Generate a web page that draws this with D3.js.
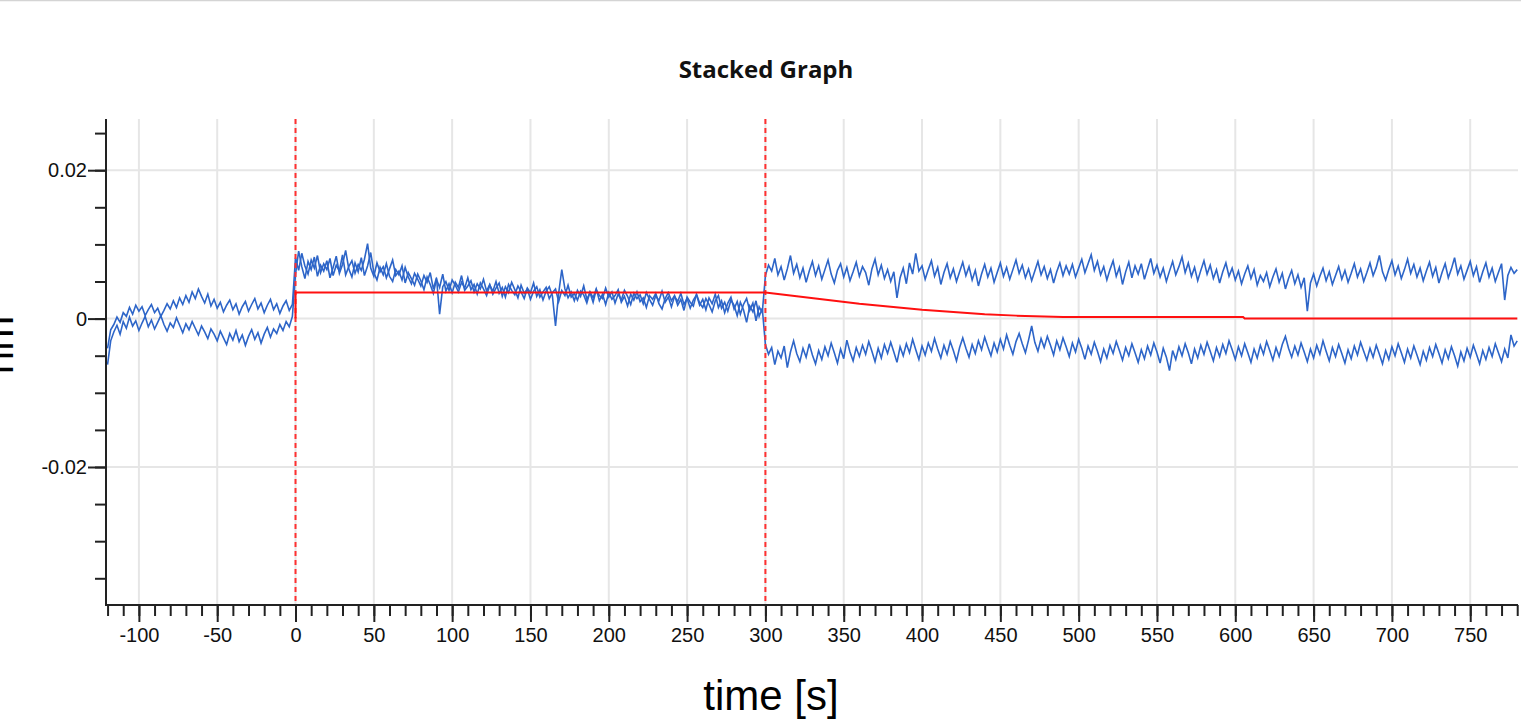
<!DOCTYPE html>
<html><head><meta charset="utf-8">
<script src="https://cdn.jsdelivr.net/npm/d3@7"></script>
<style>html,body{margin:0;padding:0;background:#fff;overflow:hidden}</style>
</head><body>
<svg id="chart" width="1521" height="721"></svg>
<script>
// ---------- text ----------
const chartTitle = "Stacked Graph";
const xAxisLabel = "time [s]";
const yAxisLabel = "nm";

// ---------- ticks ----------
const xMajorTicks = [-100,-50,0,50,100,150,200,250,300,350,400,450,500,550,600,650,700,750];
const xTickLabels = ["-100","-50","0","50","100","150","200","250","300","350","400","450","500","550","600","650","700","750"];
const yMajorTicks = [-0.02, 0, 0.02];
const yTickLabels = ["-0.02", "0", "0.02"];
const markerTimes = [0, 300];

// ---------- sampled traces (2 s spacing) ----------
const sampleStep = 2;
const preStart = -120, assocStart = 0, dissocStart = 300;

const preA = [-0.0040,-0.0015,-0.0008,0.0002,-0.0005,0.0008,0.0003,0.0015,0.0006,0.0018,
  0.0010,0.0016,0.0004,0.0012,0.0019,0.0008,0.0014,0.0003,0.0011,0.0020,
  0.0013,0.0024,0.0015,0.0028,0.0019,0.0031,0.0022,0.0036,0.0027,0.0040,
  0.0030,0.0021,0.0033,0.0017,0.0026,0.0014,0.0022,0.0009,0.0018,0.0025,
  0.0012,0.0020,0.0006,0.0016,0.0023,0.0010,0.0019,0.0027,0.0013,0.0021,
  0.0008,0.0018,0.0026,0.0012,0.0020,0.0007,0.0017,0.0024,0.0011,0.0019];
const preB = [-0.0062,-0.0030,-0.0018,-0.0009,-0.0021,-0.0004,-0.0013,0.0002,-0.0010,-0.0003,
  -0.0016,-0.0006,0.0003,-0.0011,-0.0002,-0.0014,-0.0005,0.0004,-0.0008,-0.0017,
  -0.0006,-0.0012,0.0001,-0.0009,-0.0019,-0.0007,-0.0015,-0.0004,-0.0013,-0.0022,
  -0.0010,-0.0018,-0.0027,-0.0014,-0.0021,-0.0030,-0.0017,-0.0026,-0.0035,-0.0020,
  -0.0029,-0.0016,-0.0031,-0.0022,-0.0036,-0.0024,-0.0015,-0.0028,-0.0019,-0.0033,
  -0.0021,-0.0012,-0.0025,-0.0014,-0.0020,-0.0008,-0.0016,-0.0004,-0.0011,0.0003];

const assocA = [0.0082,0.0065,0.0088,0.0071,0.0060,0.0079,0.0068,0.0085,0.0062,0.0074,
  0.0066,0.0081,0.0058,0.0072,0.0064,0.0086,0.0059,0.0070,0.0078,0.0061,
  0.0073,0.0065,0.0080,0.0101,0.0068,0.0057,0.0075,0.0063,0.0070,0.0055,
  0.0067,0.0079,0.0058,0.0064,0.0052,0.0069,0.0056,0.0047,0.0061,0.0053,
  0.0044,0.0058,0.0049,0.0062,0.0040,0.0055,0.0006,0.0043,0.0050,0.0038,
  0.0052,0.0045,0.0036,0.0049,0.0041,0.0055,0.0039,0.0046,0.0033,0.0048,
  0.0040,0.0031,0.0045,0.0037,0.0050,0.0034,0.0042,0.0029,0.0046,0.0038,
  0.0032,0.0044,0.0036,0.0027,0.0041,0.0035,0.0048,0.0030,0.0039,0.0025,
  0.0037,0.0043,0.0031,-0.0010,0.0034,0.0066,0.0040,0.0028,0.0036,0.0024,
  0.0038,0.0030,0.0044,0.0026,0.0035,0.0022,0.0039,0.0031,0.0027,0.0041,
  0.0029,0.0036,0.0021,0.0033,0.0025,0.0038,0.0030,0.0019,0.0034,0.0027,
  0.0032,0.0020,0.0035,0.0026,0.0018,0.0031,0.0024,0.0037,0.0022,0.0029,
  0.0016,0.0030,0.0023,0.0034,0.0019,0.0027,0.0014,0.0025,0.0032,0.0018,
  0.0026,0.0012,0.0028,0.0020,0.0033,0.0015,0.0024,0.0008,0.0021,0.0029,
  0.0013,0.0023,0.0006,0.0019,0.0027,0.0011,0.0021,-0.0003,0.0016,0.0008];
const assocB = [0.0060,0.0091,0.0070,0.0054,0.0077,0.0066,0.0083,0.0057,0.0072,0.0064,
  0.0078,0.0055,0.0069,0.0084,0.0061,0.0073,0.0092,0.0067,0.0056,0.0075,
  0.0063,0.0082,0.0058,0.0071,0.0089,0.0062,0.0052,0.0069,0.0059,0.0074,
  0.0057,0.0050,0.0066,0.0059,0.0071,0.0048,0.0062,0.0054,0.0045,0.0060,
  0.0051,0.0039,0.0056,0.0046,0.0034,0.0053,0.0042,0.0060,0.0037,0.0047,
  0.0035,0.0049,0.0042,0.0058,0.0038,0.0044,0.0051,0.0036,0.0047,0.0040,
  0.0053,0.0037,0.0046,0.0033,0.0041,0.0048,0.0030,0.0043,0.0035,0.0049,
  0.0039,0.0028,0.0045,0.0034,0.0040,0.0026,0.0037,0.0043,0.0029,0.0036,
  0.0042,0.0027,0.0035,0.0040,0.0023,0.0038,0.0031,0.0045,0.0029,0.0034,
  0.0025,0.0037,0.0032,0.0021,0.0036,0.0028,0.0040,0.0024,0.0033,0.0019,
  0.0035,0.0026,0.0031,0.0039,0.0022,0.0030,0.0017,0.0033,0.0025,0.0036,
  0.0023,0.0028,0.0015,0.0031,0.0026,0.0034,0.0020,0.0013,0.0027,0.0035,
  0.0024,0.0031,0.0018,0.0026,0.0011,0.0029,0.0022,0.0017,0.0033,0.0021,
  0.0015,0.0027,0.0019,0.0009,0.0024,0.0031,0.0014,0.0022,0.0010,0.0025,
  0.0018,0.0004,0.0022,0.0012,-0.0005,0.0017,0.0009,0.0024,0.0003,0.0014];

const dissocA = [0.0058,0.0072,0.0064,0.0081,0.0059,0.0070,0.0052,0.0067,0.0085,0.0061,
  0.0073,0.0055,0.0068,0.0049,0.0064,0.0077,0.0058,0.0071,0.0053,0.0066,
  0.0079,0.0060,0.0048,0.0065,0.0074,0.0056,0.0069,0.0051,0.0063,0.0076,
  0.0057,0.0070,0.0062,0.0045,0.0067,0.0080,0.0059,0.0072,0.0054,0.0066,
  0.0050,0.0063,0.0028,0.0055,0.0068,0.0047,0.0075,0.0060,0.0088,0.0064,
  0.0071,0.0053,0.0066,0.0078,0.0057,0.0069,0.0046,0.0062,0.0074,0.0055,
  0.0067,0.0050,0.0063,0.0076,0.0058,0.0070,0.0052,0.0065,0.0044,0.0060,
  0.0073,0.0056,0.0068,0.0049,0.0062,0.0075,0.0057,0.0069,0.0053,0.0066,
  0.0079,0.0061,0.0072,0.0055,0.0067,0.0051,0.0064,0.0077,0.0059,0.0070,
  0.0054,0.0066,0.0048,0.0063,0.0075,0.0058,0.0071,0.0060,0.0073,0.0056,
  0.0068,0.0080,0.0062,0.0074,0.0086,0.0065,0.0077,0.0059,0.0070,0.0052,
  0.0066,0.0078,0.0057,0.0069,0.0046,0.0063,0.0076,0.0055,0.0071,0.0060,
  0.0074,0.0053,0.0067,0.0081,0.0061,0.0072,0.0056,0.0068,0.0050,0.0064,
  0.0077,0.0059,0.0070,0.0083,0.0062,0.0075,0.0057,0.0069,0.0051,0.0065,
  0.0078,0.0060,0.0072,0.0054,0.0066,0.0048,0.0063,0.0075,0.0057,0.0068,
  0.0052,0.0064,0.0047,0.0060,0.0071,0.0054,0.0066,0.0045,0.0058,0.0050,
  0.0062,0.0043,0.0056,0.0067,0.0049,0.0061,0.0040,0.0054,0.0065,0.0047,
  0.0059,0.0042,0.0055,0.0010,0.0048,0.0060,0.0044,0.0057,0.0068,0.0051,
  0.0063,0.0046,0.0058,0.0070,0.0053,0.0065,0.0049,0.0061,0.0074,0.0056,
  0.0067,0.0050,0.0062,0.0075,0.0058,0.0069,0.0085,0.0063,0.0052,0.0066,
  0.0078,0.0059,0.0071,0.0054,0.0066,0.0080,0.0061,0.0073,0.0056,0.0068,
  0.0051,0.0064,0.0076,0.0057,0.0069,0.0048,0.0062,0.0074,0.0055,0.0067,
  0.0082,0.0060,0.0071,0.0053,0.0065,0.0077,0.0058,0.0070,0.0049,0.0063,
  0.0075,0.0056,0.0068,0.0050,0.0062,0.0074,0.0025,0.0058,0.0069,0.0061,
  0.0066];
const dissocB = [-0.0035,-0.0048,-0.0039,-0.0062,-0.0044,-0.0053,-0.0037,-0.0066,-0.0045,-0.0030,
  -0.0047,-0.0058,-0.0040,-0.0052,-0.0034,-0.0049,-0.0061,-0.0043,-0.0055,-0.0038,
  -0.0050,-0.0033,-0.0046,-0.0060,-0.0041,-0.0054,-0.0029,-0.0045,-0.0057,-0.0039,
  -0.0051,-0.0036,-0.0048,-0.0031,-0.0044,-0.0058,-0.0040,-0.0053,-0.0035,-0.0047,
  -0.0032,-0.0045,-0.0059,-0.0038,-0.0050,-0.0034,-0.0046,-0.0028,-0.0042,-0.0055,
  -0.0037,-0.0049,-0.0033,-0.0044,-0.0027,-0.0041,-0.0053,-0.0036,-0.0048,-0.0031,
  -0.0043,-0.0057,-0.0039,-0.0026,-0.0040,-0.0052,-0.0035,-0.0047,-0.0030,-0.0042,
  -0.0025,-0.0038,-0.0050,-0.0033,-0.0045,-0.0028,-0.0041,-0.0022,-0.0036,-0.0048,
  -0.0031,-0.0020,-0.0034,-0.0046,-0.0029,-0.0010,-0.0032,-0.0044,-0.0027,-0.0039,
  -0.0024,-0.0036,-0.0049,-0.0030,-0.0042,-0.0026,-0.0038,-0.0051,-0.0033,-0.0045,
  -0.0028,-0.0040,-0.0055,-0.0037,-0.0048,-0.0032,-0.0044,-0.0058,-0.0041,-0.0053,
  -0.0036,-0.0047,-0.0031,-0.0043,-0.0056,-0.0039,-0.0050,-0.0034,-0.0046,-0.0059,
  -0.0042,-0.0054,-0.0037,-0.0049,-0.0033,-0.0045,-0.0060,-0.0040,-0.0052,-0.0070,
  -0.0043,-0.0055,-0.0038,-0.0050,-0.0034,-0.0046,-0.0061,-0.0041,-0.0053,-0.0036,
  -0.0048,-0.0032,-0.0044,-0.0057,-0.0039,-0.0051,-0.0035,-0.0047,-0.0030,-0.0042,
  -0.0055,-0.0038,-0.0050,-0.0034,-0.0046,-0.0059,-0.0041,-0.0053,-0.0036,-0.0048,
  -0.0031,-0.0043,-0.0056,-0.0039,-0.0051,-0.0035,-0.0024,-0.0040,-0.0052,-0.0037,
  -0.0049,-0.0033,-0.0045,-0.0058,-0.0041,-0.0053,-0.0036,-0.0048,-0.0030,-0.0044,
  -0.0057,-0.0039,-0.0051,-0.0035,-0.0047,-0.0060,-0.0042,-0.0054,-0.0037,-0.0049,
  -0.0032,-0.0044,-0.0056,-0.0040,-0.0052,-0.0036,-0.0048,-0.0061,-0.0043,-0.0055,
  -0.0038,-0.0050,-0.0034,-0.0046,-0.0059,-0.0041,-0.0053,-0.0037,-0.0049,-0.0062,
  -0.0044,-0.0056,-0.0039,-0.0051,-0.0035,-0.0047,-0.0060,-0.0042,-0.0054,-0.0038,
  -0.0050,-0.0064,-0.0045,-0.0057,-0.0040,-0.0052,-0.0036,-0.0048,-0.0061,-0.0043,
  -0.0055,-0.0039,-0.0051,-0.0034,-0.0046,-0.0058,-0.0041,-0.0053,-0.0022,-0.0037,
  -0.0030];

// ---------- fitted model (red) ----------
const fitTimes  = [0, 0, 300, 320, 340, 360, 380, 400, 420, 440, 460, 490, 605, 606, 780];
const fitValues = [0, 0.0035, 0.0035, 0.0030, 0.0025, 0.0020, 0.0016, 0.0012, 0.0009, 0.0006, 0.0004, 0.0002, 0.0002, 0.0000, 0.0000];

// ---------- layout ----------
const W = 1521, H = 721;
const plot = {left: 106, right: 1518, top: 119, bottom: 605};
const svg = d3.select("#chart");

const x = d3.scaleLinear().domain([-121, 780.5]).range([plot.left, plot.right]);
const y = d3.scaleLinear().domain([-0.0386, 0.0269]).range([plot.bottom, plot.top]);

// top border line of the screenshot
svg.append("line").attr("x1", 0).attr("x2", W).attr("y1", 0.5).attr("y2", 0.5)
  .attr("stroke", "#d4d4d4").attr("stroke-width", 1.5);

// grid
const grid = svg.append("g");
grid.selectAll("line.vx").data(xMajorTicks).join("line")
  .attr("x1", d => x(d)).attr("x2", d => x(d))
  .attr("y1", plot.top).attr("y2", plot.bottom)
  .attr("stroke", "#e6e6e6").attr("stroke-width", 2);
grid.selectAll("line.hy").data(yMajorTicks).join("line")
  .attr("x1", plot.left).attr("x2", plot.right)
  .attr("y1", d => y(d)).attr("y2", d => y(d))
  .attr("stroke", "#e6e6e6").attr("stroke-width", 2);

// clip
svg.append("clipPath").attr("id", "clip").append("rect")
  .attr("x", plot.left).attr("y", plot.top)
  .attr("width", plot.right - plot.left).attr("height", plot.bottom - plot.top);

function seg(start, vals) { return vals.map((v, i) => ({t: start + i * sampleStep, v})); }
const traceA = [...seg(preStart, preA), ...seg(assocStart, assocA), ...seg(dissocStart, dissocA)];
const traceB = [...seg(preStart, preB), ...seg(assocStart, assocB), ...seg(dissocStart, dissocB)];

const dataG = svg.append("g").attr("clip-path", "url(#clip)");
const noisyLine = d3.line().x(d => x(d.t)).y(d => y(d.v));
[traceB, traceA].forEach(tr => {
  dataG.append("path").datum(tr).attr("d", noisyLine)
    .attr("fill", "none").attr("stroke", "#2d65c8").attr("stroke-width", 1.6)
    .attr("stroke-linejoin", "miter");
});

// marker lines
dataG.selectAll("line.mk").data(markerTimes).join("line")
  .attr("x1", d => x(d)).attr("x2", d => x(d))
  .attr("y1", plot.top).attr("y2", plot.bottom)
  .attr("stroke", "#ff3030").attr("stroke-width", 2).attr("stroke-dasharray", "5,4");

// fit
const fitData = fitTimes.map((t, i) => ({t, v: fitValues[i]}));
dataG.append("path").datum(fitData)
  .attr("d", d3.line().x(d => x(d.t)).y(d => y(d.v)))
  .attr("fill", "none").attr("stroke", "#ff1010").attr("stroke-width", 2);

// axes
const axisColor = "#222";
const fontFam = "'Liberation Sans', Arial, sans-serif";

const xAxis = svg.append("g").attr("transform", `translate(0,${plot.bottom})`)
  .call(d3.axisBottom(x).tickValues(d3.range(-120, 781, 10)).tickSize(11).tickFormat(""));
const xMajor = svg.append("g").attr("transform", `translate(0,${plot.bottom})`)
  .call(d3.axisBottom(x).tickValues(xMajorTicks).tickSize(17).tickPadding(6)
    .tickFormat((d, i) => xTickLabels[i]));
const yAxis = svg.append("g").attr("transform", `translate(${plot.left},0)`)
  .call(d3.axisLeft(y).tickValues([-0.035,-0.03,-0.025,-0.02,-0.015,-0.01,-0.005,0,0.005,0.01,0.015,0.02,0.025]).tickSize(11).tickFormat(""));
const yMajor = svg.append("g").attr("transform", `translate(${plot.left},0)`)
  .call(d3.axisLeft(y).tickValues(yMajorTicks).tickSize(18).tickPadding(1)
    .tickFormat((d, i) => yTickLabels[i]));

[xAxis, xMajor, yAxis, yMajor].forEach(g => {
  g.select(".domain").remove();
  g.selectAll(".tick line").attr("stroke", axisColor).attr("stroke-width", 2);
  g.selectAll(".tick text").attr("fill", "#111").style("font-family", fontFam).style("font-size", "20px");
});
// axis lines
svg.append("line").attr("x1", plot.left).attr("x2", plot.left)
  .attr("y1", plot.top).attr("y2", plot.bottom + 1).attr("stroke", axisColor).attr("stroke-width", 2);
svg.append("line").attr("x1", plot.left - 1).attr("x2", plot.right)
  .attr("y1", plot.bottom).attr("y2", plot.bottom).attr("stroke", axisColor).attr("stroke-width", 2);

// title
svg.append("text").attr("x", 766).attr("y", 78).attr("text-anchor", "middle")
  .style("font-family", "'Open Sans', 'DejaVu Sans', sans-serif").style("font-weight", "bold")
  .style("font-size", "24px").attr("fill", "#111").text(chartTitle);

// x label
svg.append("text").attr("x", 771).attr("y", 710).attr("text-anchor", "middle")
  .style("font-family", fontFam).style("font-size", "42px").attr("fill", "#000").text(xAxisLabel);

// y label (partly cut off at the left edge, as in the reference)
svg.append("text").attr("transform", "translate(13,345) rotate(-90)").attr("text-anchor", "middle")
  .style("font-family", fontFam).style("font-size", "42px").attr("fill", "#000").text(yAxisLabel);
</script>
</body></html>
